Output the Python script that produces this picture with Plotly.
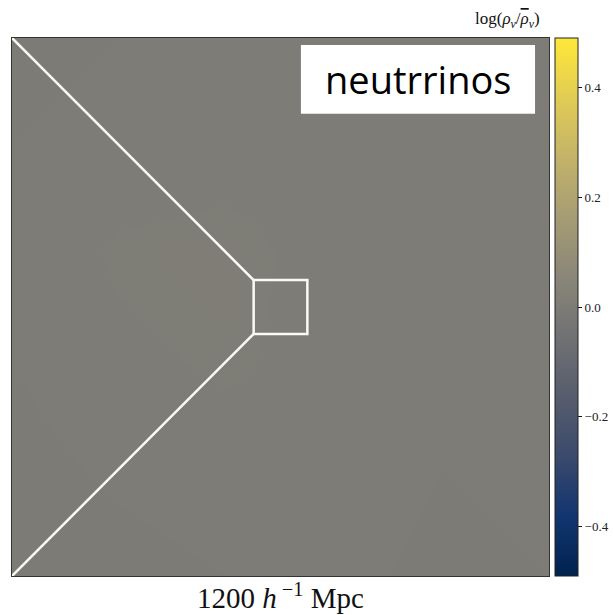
import plotly.graph_objects as go

# Simulation slice geometry (Mpc/h)
box_size = 1200
zoom_size = 120
panel_label = "neutrrinos"

# Coarse neutrino overdensity field, log(rho_nu / mean rho_nu)
grid_x = [0, 240, 480, 720, 960, 1200]
grid_y = [0, 240, 480, 720, 960, 1200]
log_density = [
    [-0.003, -0.002, 0.000, 0.001, -0.001, 0.000],
    [-0.002, 0.001, 0.003, 0.002, 0.000, 0.001],
    [0.000, 0.004, 0.006, 0.003, 0.001, 0.000],
    [0.001, 0.006, 0.007, 0.003, 0.002, 0.001],
    [0.000, 0.002, 0.003, 0.002, 0.001, 0.002],
    [-0.002, 0.000, 0.001, 0.000, 0.002, 0.003],
]

cbar_ticks = [-0.4, -0.2, 0.0, 0.2, 0.4]
zmin, zmax = -0.49, 0.49

serif = "Liberation Serif, DejaVu Serif, serif"

fig = go.Figure()
fig.add_trace(go.Heatmap(
    x=grid_x, y=grid_y, z=log_density,
    zsmooth="best",
    colorscale="Cividis",
    zmin=zmin, zmax=zmax,
    colorbar=dict(
        x=1.011, xanchor="left", xpad=0,
        y=0.5, yanchor="middle", len=1.0, ypad=0,
        thickness=23,
        outlinewidth=1, outlinecolor="#222",
        tickmode="array", tickvals=cbar_ticks,
        ticktext=[f"{v:.1f}".replace("-", "\u2212") for v in cbar_ticks],
        ticks="outside", ticklen=4, tickwidth=1, tickcolor="#111",
        tickfont=dict(family=serif, size=13, color="#222"),
    ),
    hoverinfo="skip",
))

# Zoom region at the centre of the slice
c = box_size / 2
h = zoom_size / 2
x0, x1, y0, y1 = c - h, c + h, c - h, c + h
line_style = dict(color="#fbfbf6", width=2.5)
fig.add_shape(type="rect", x0=x0, x1=x1, y0=y0, y1=y1, line=line_style)
fig.add_shape(type="line", x0=0, y0=box_size, x1=x0, y1=y1, line=line_style)
fig.add_shape(type="line", x0=0, y0=0, x1=x0, y1=y0, line=line_style)

# Label panel
fig.add_shape(type="rect", xref="paper", yref="paper",
              x0=0.538, x1=0.974, y0=0.859, y1=0.987,
              line=dict(width=0), fillcolor="white")
fig.add_annotation(xref="paper", yref="paper", x=0.756, y=0.923,
                   xanchor="center", yanchor="middle",
                   text=panel_label, showarrow=False,
                   font=dict(family="Open Sans, sans-serif", size=38, color="black"))

# Colorbar title
fig.add_annotation(xref="paper", yref="paper", x=0.923, y=1.0,
                   xanchor="center", yanchor="bottom", yshift=5,
                   text="log(<i>ρ</i><sub><i>ν</i></sub>/"
                        "<span style='text-decoration:overline'><i>ρ</i></span>"
                        "<sub><i>ν</i></sub>)",
                   showarrow=False,
                   font=dict(family=serif, size=17, color="#111"))

# Scale label
fig.add_annotation(xref="paper", yref="paper", x=0.5, y=0.0,
                   xanchor="center", yanchor="top", yshift=0,
                   text=f"{box_size} <i>h</i><sup> \u22121</sup> Mpc",
                   showarrow=False,
                   font=dict(family=serif, size=29, color="#111"))

axis_common = dict(range=[0, box_size], showticklabels=False, ticks="",
                   showgrid=False, zeroline=False, showline=True,
                   linecolor="#333", linewidth=1, mirror=True)
fig.update_xaxes(**axis_common)
fig.update_yaxes(**axis_common)

fig.update_layout(
    width=613, height=615,
    margin=dict(l=12, r=64, t=38, b=39, autoexpand=False),
    paper_bgcolor="white", plot_bgcolor="#7c7b78",
    showlegend=False,
)

fig.write_html("out.html")
